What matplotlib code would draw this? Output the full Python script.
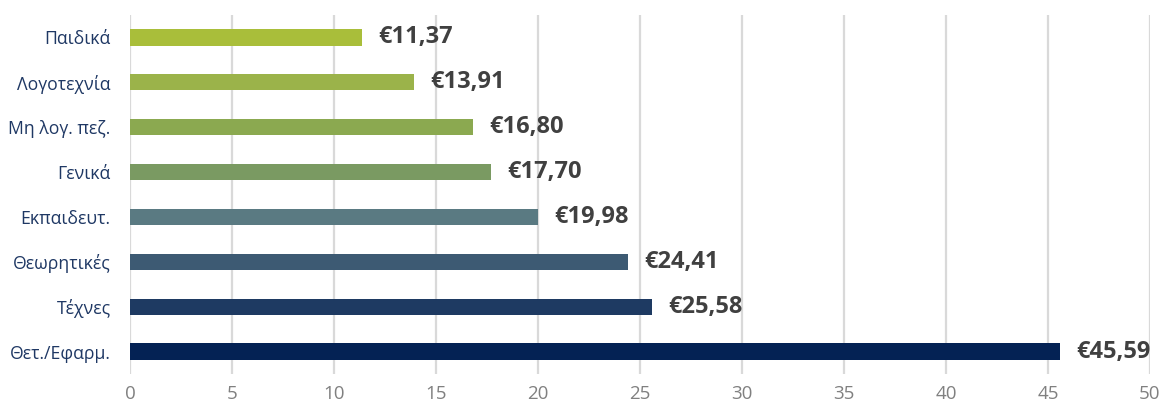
import matplotlib
matplotlib.use("Agg")
import matplotlib.pyplot as plt

categories = ["Παιδικά", "Λογοτεχνία", "Μη λογ. πεζ.", "Γενικά", "Εκπαιδευτ.",
              "Θεωρητικές", "Τέχνες", "Θετ./Εφαρμ."]
values = [11.37, 13.91, 16.80, 17.70, 19.98, 24.41, 25.58, 45.59]
value_labels = ["€11,37", "€13,91", "€16,80", "€17,70", "€19,98", "€24,41", "€25,58", "€45,59"]
colors = ["#A9BE3A", "#9BB34A", "#8BA950", "#7A9A62", "#5A7A82", "#3D5A73", "#1E3A62", "#042254"]
xticks = [0, 5, 10, 15, 20, 25, 30, 35, 40, 45, 50]

plt.rcParams['font.family'] = ['Open Sans', 'DejaVu Sans']

fig = plt.figure(figsize=(11.61, 4.05), dpi=100)
ax = fig.add_axes([130/1161, 1-374/405, 1020/1161, 359/405])

ypos = list(range(len(categories)))
ax.barh(ypos, values, height=0.36, color=colors, zorder=3)
for y, v, lab in zip(ypos, values, value_labels):
    ax.annotate(lab, xy=(v, y), xytext=(12, 0), textcoords="offset points",
                va="center", ha="left", fontsize=17, fontweight="bold", color="#404040")

ax.set_xlim(0, 50)
ax.set_ylim(len(categories) - 0.5, -0.5)
ax.set_yticks(ypos)
ax.set_yticklabels(categories, fontsize=12.7, color="#1F3864")
ax.set_xticks(xticks)
ax.set_xticklabels([str(t) for t in xticks], fontsize=13.5, color="#808080")
ax.tick_params(axis="both", length=0)
ax.tick_params(axis="y", pad=14)
ax.tick_params(axis="x", pad=8)
ax.grid(axis="x", color="#D9D9D9", linewidth=1.6, zorder=0)
for s in ax.spines.values():
    s.set_visible(False)

fig.savefig("out.png", dpi=100)
